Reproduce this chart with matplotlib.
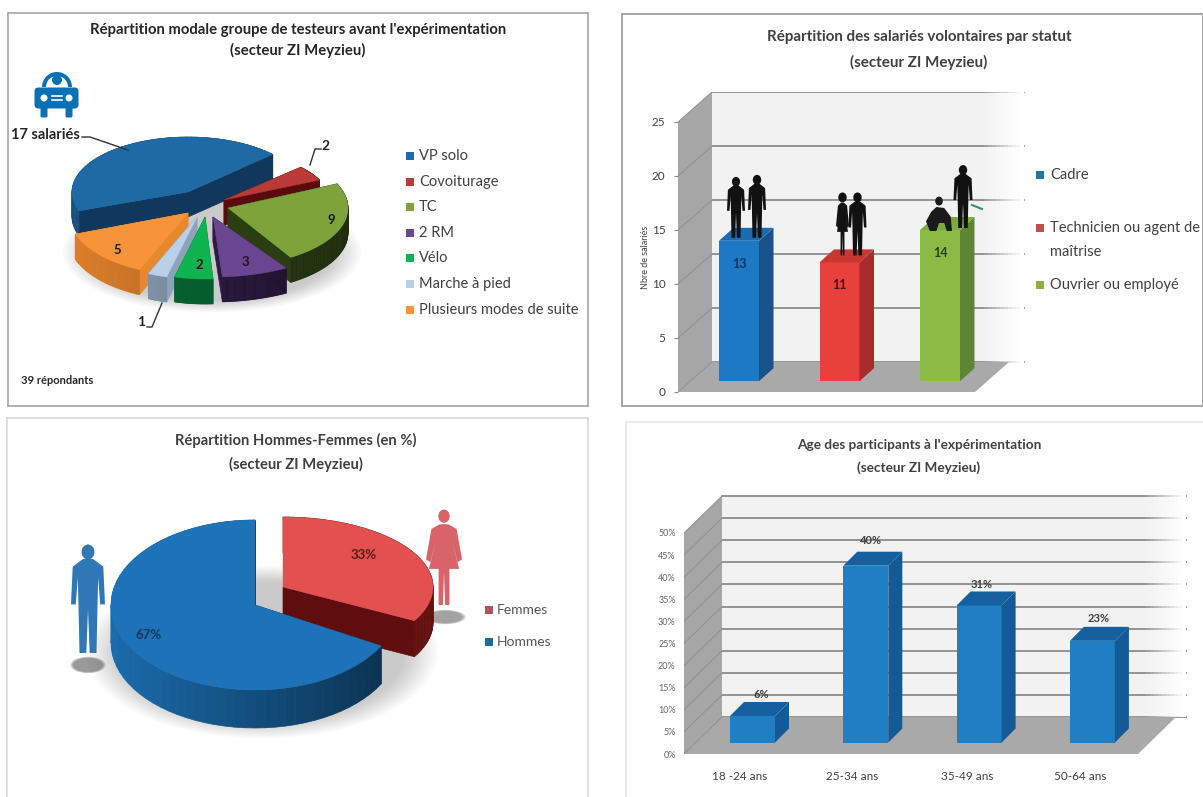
import numpy as np
import matplotlib
matplotlib.use("Agg")
import matplotlib.pyplot as plt
from matplotlib.patches import Polygon, Rectangle, Ellipse, FancyBboxPatch, Wedge
from matplotlib.colors import to_rgb

plt.rcParams['font.family'] = ['Lato', 'DejaVu Sans']

W, H = 1203, 797

# data
modes = ['VP solo', 'Covoiturage', 'TC', '2 RM', 'Vélo', 'Marche à pied', 'Plusieurs modes de suite']
modes_n = [17, 2, 9, 3, 2, 1, 5]
statuts = ['Cadre', 'Technicien ou agent de\nmaîtrise', 'Ouvrier ou employé']
statuts_n = [13, 11, 14]
genres = ['Femmes', 'Hommes']
genres_pct = [33, 67]
ages = ['18 -24 ans', '25-34 ans', '35-49 ans', '50-64 ans']
ages_pct = [6, 40, 31, 23]

# styles
mode_top = ['#1f6aa5', '#b93a36', '#7ea33a', '#6a4590', '#0fb450', '#b8d0ea', '#f79439']
mode_side = ['#174f80', '#6b0f0f', '#2f4514', '#2e1a45', '#067036', '#8da3ba', '#e07f28']
mode_radial = ['#10375c', '#5a0c0c', '#2a3e12', '#2e1a45', '#067036', '#8da3ba', '#e8882e']
mode_legend = ['#1f6aa5', '#b93a36', '#7ea33a', '#6a4590', '#0fb450', '#b8d0ea', '#f79439']
mode_apex = [(188, 192), (224, 200), (228, 208), (213, 217), (205, 217), (197, 217), (188, 213)]
mode_rad = [(116, 55), (105, 48), (120, 58), (140, 60), (120, 62), (120, 62), (120, 62)]
mode_order = [0, 1, 2, 6, 5, 3, 4]

fig = plt.figure(figsize=(W / 100, H / 100), dpi=100, facecolor='white')
over = fig.add_axes([0, 0, 1, 1], zorder=5)
over.set_xlim(0, W)
over.set_ylim(H, 0)
over.axis('off')
over.patch.set_alpha(0)


def slice3d(apex, start, end, rad, depth, top, side, radial, dark_right=0.0, z=2):
    t = np.radians(np.linspace(start, end, 60))
    xs = apex[0] + rad[0] * np.cos(t)
    ys = apex[1] - rad[1] * np.sin(t)
    pts = [apex] + list(zip(xs, ys))
    faces = []
    for i in range(len(pts)):
        p, q = pts[i], pts[(i + 1) % len(pts)]
        if i == 0 or i == len(pts) - 1:
            col = radial
        else:
            shade = 1 - dark_right * (np.cos(t[i - 1]) + 1) / 2
            col = tuple(c * shade for c in to_rgb(side))
        faces.append(((p[1] + q[1]) / 2, [p, q, (q[0], q[1] + depth), (p[0], p[1] + depth)], col))
    faces.sort(key=lambda f: f[0])
    for _, quad, col in faces:
        over.add_patch(Polygon(quad, closed=True, fc=col, ec=col, lw=0.5, zorder=z))
    over.add_patch(Polygon(pts, closed=True, fc=top, ec=top, lw=0.3, zorder=z + 0.1))


def soft_shadow(cx, cy, w, h, alpha=0.025, z=1):
    for k in np.linspace(1.05, 0.85, 14):
        over.add_patch(Ellipse((cx, cy), w * k, h * k, fc='#555555', ec='none', alpha=alpha, zorder=z))


MAN = [(-0.15, 0.13), (0.15, 0.13), (0.45, 0.2), (0.5, 0.55), (0.36, 0.55), (0.3, 0.3), (0.28, 0.55),
       (0.25, 1.0), (0.05, 1.0), (0, 0.6), (-0.05, 1.0), (-0.25, 1.0), (-0.28, 0.55), (-0.3, 0.3),
       (-0.36, 0.55), (-0.5, 0.55), (-0.45, 0.2)]
WOMAN = [(-0.12, 0.15), (0.12, 0.15), (0.35, 0.2), (0.5, 0.52), (0.38, 0.55), (0.22, 0.32), (0.42, 0.62),
         (0.15, 0.62), (0.15, 1), (0.03, 1), (0, 0.65), (-0.03, 1), (-0.15, 1), (-0.15, 0.62), (-0.42, 0.62),
         (-0.22, 0.32), (-0.38, 0.55), (-0.5, 0.52), (-0.35, 0.2)]
CROUCH = [(-0.1, 0.25), (0.2, 0.28), (0.45, 0.55), (0.5, 1.0), (0.3, 1.0), (0.2, 0.75), (0.0, 0.75),
          (-0.1, 1.0), (-0.35, 1.0), (-0.5, 0.7), (-0.3, 0.4)]


def person(cx, foot, w, h, shape, col, head=0.14, z=8):
    pts = [(cx + x * w, foot - h + y * h) for x, y in shape]
    over.add_patch(Polygon(pts, closed=True, fc=col, ec='none', zorder=z))
    over.add_patch(Ellipse((cx, foot - h + 0.065 * h), head * h * 0.85, head * h, fc=col, ec='none', zorder=z))


def frame(x0, y0, x1, y1, col, lw=1.2, sides='ltrb'):
    if 'l' in sides:
        over.plot([x0, x0], [y0, y1], color=col, lw=lw, zorder=0.5)
    if 'r' in sides:
        over.plot([x1, x1], [y0, y1], color=col, lw=lw, zorder=0.5)
    if 't' in sides:
        over.plot([x0, x1], [y0, y0], color=col, lw=lw, zorder=0.5)
    if 'b' in sides:
        over.plot([x0, x1], [y1, y1], color=col, lw=lw, zorder=0.5)


def titles(cx, y1, y2, l1, l2, size, col, weight='bold'):
    over.text(cx, y1, l1, ha='center', va='center', fontsize=size, color=col, fontweight=weight, zorder=9)
    over.text(cx, y2, l2, ha='center', va='center', fontsize=size, color=col, fontweight=weight, zorder=9)


def bar_panel(x0, x1, y0, ytop, scale, ticks, wall_dx, wall_dy, floor_right, wall_right):
    # y data is the chart value, x data is the picture column
    ax = fig.add_axes([x0 / W, 1 - y0 / H, (x1 - x0) / W, (y0 - ytop) / H], zorder=2)
    ax.set_xlim(x0, x1)
    ax.set_ylim(0, (y0 - ytop) / scale)
    ax.patch.set_alpha(0)
    for s in ax.spines.values():
        s.set_visible(False)
    ax.set_xticks([])
    ax.set_yticks(ticks)
    dv = wall_dy / scale
    tmax = ticks[-1]
    ax.add_patch(Rectangle((x0 + wall_dx, dv), wall_right - x0 - wall_dx, tmax, fc='#f2f2f2', ec='none', zorder=0))
    ax.add_patch(Polygon([(x0, 0), (x0 + wall_dx, dv), (x0 + wall_dx, dv + tmax), (x0, tmax)],
                         closed=True, fc='#a6a6a6', ec='none', zorder=1))
    ax.add_patch(Polygon([(x0, 0), (x0 + wall_dx, dv), (floor_right + wall_dx, dv), (floor_right, 0)],
                         closed=True, fc='#a9a9a9', ec='none', zorder=1))
    for v in ticks:
        ax.plot([x0 + wall_dx, wall_right], [v + dv, v + dv], color='#8c8c8c', lw=1.3, zorder=0.5)
        ax.plot([x0, x0 + wall_dx], [v, v + dv], color='#8f8f8f', lw=0.7, zorder=1.5)
    # fade the right side of the wall into the page
    for i, a in enumerate(np.linspace(0.1, 1, 10)):
        ax.add_patch(Rectangle((wall_right - 40 + i * 4, dv - 0.1), 4, tmax + 1, fc='white', ec='none',
                               alpha=a, zorder=0.8))
    return ax


def bars3d(ax, xs, vals, base, width, dx, dv, front, side, top):
    for i, (x, v) in enumerate(zip(xs, vals)):
        f = front[i % len(front)]
        s = side[i % len(side)]
        t = top[i % len(top)]
        ax.bar(x, v, width=width, bottom=base, align='edge', color=f, zorder=4)
        ax.add_patch(Polygon([(x + width, base), (x + width + dx, base + dv), (x + width + dx, base + v + dv),
                              (x + width, base + v)], closed=True, fc=s, ec='none', zorder=4))
        ax.add_patch(Polygon([(x, base + v), (x + dx, base + v + dv), (x + width + dx, base + v + dv),
                              (x + width, base + v)], closed=True, fc=t, ec='none', zorder=4))


# ---------- top left: modes ----------
frame(8, 13, 588, 406, '#a6a6a6')
titles(298, 30, 50, "Répartition modale groupe de testeurs avant l'expérimentation", '(secteur ZI Meyzieu)', 10.7, '#262626')
soft_shadow(212, 252, 285, 115)
angles = 200 - np.concatenate([[0], np.cumsum(modes_n)]) / sum(modes_n) * 360
for i in mode_order:
    slice3d(mode_apex[i], angles[i], angles[i + 1], mode_rad[i], 25, mode_top[i], mode_side[i], mode_radial[i],
            dark_right=0.35)
for i, name in enumerate(modes):
    y = 156 + i * 25.6
    over.add_patch(Rectangle((406, y - 4), 8, 8, fc=mode_legend[i], ec='none', zorder=6))
    over.text(419, y, name, va='center', fontsize=10.5, color='#404040', zorder=9)
for x, y, s in [(331, 220, modes_n[2]), (117, 250, modes_n[6]), (199, 265, modes_n[4]), (245, 262, modes_n[3])]:
    over.text(x, y, str(s), ha='center', va='center', fontsize=9.5, fontweight='bold', color='#1a1a1a', zorder=9)
over.text(11, 135, f'{modes_n[0]} salariés', va='center', fontsize=10.5, fontweight='bold', color='#262626', zorder=9)
over.plot([82, 90, 128], [137, 137, 150], color='#333333', lw=1, zorder=9)
over.text(326, 146, str(modes_n[1]), ha='center', va='center', fontsize=10, fontweight='bold', color='#262626', zorder=9)
over.plot([321, 315, 310], [149, 149, 165], color='#333333', lw=1, zorder=9)
over.text(141, 322, str(modes_n[5]), ha='center', va='center', fontsize=10, fontweight='bold', color='#262626', zorder=9)
over.plot([147, 152, 162], [327, 327, 303], color='#333333', lw=1, zorder=9)
over.text(21, 380, f'{sum(modes_n)} répondants', va='center', fontsize=8, fontweight='bold', color='#262626', zorder=9)

# car icon
car = '#0a70b5'
over.add_patch(Wedge((57, 87), 15, 180, 360, width=4, fc=car, ec='none', zorder=6))
over.add_patch(Ellipse((57, 80), 10, 10, fc=car, ec='none', zorder=6))
over.add_patch(FancyBboxPatch((38, 91), 37, 14, boxstyle='round,pad=3.5,rounding_size=4', fc=car, ec='none', zorder=6))
for x in (44, 69):
    over.add_patch(FancyBboxPatch((x - 2, 108), 4, 8, boxstyle='round,pad=1.5', fc=car, ec='none', zorder=6))
    over.add_patch(Ellipse((x, 98), 7, 7, fc='white', ec='none', zorder=7))
for y in (96, 100):
    over.plot([52, 62], [y, y], color='white', lw=1.2, zorder=7)

# ---------- top right: statut ----------
frame(622, 14, 1203, 406, '#a6a6a6', lw=1.4)
titles(919, 37, 62, 'Répartition des salariés volontaires par statut', '(secteur ZI Meyzieu)', 10.9, '#404040')
ax2 = bar_panel(678, 1030, 392, 92, 10.8, [0, 5, 10, 15, 20, 25], 34, 30, 975, 1024)
ax2.tick_params(axis='y', length=3, color='#888888', labelsize=8.5, labelcolor='#404040', pad=6)
st_x = [719 + i * 100.5 for i in range(3)]
bars3d(ax2, st_x, statuts_n, 1.0, 40, 14.5, 13 / 10.8,
       ['#1b79c6', '#e8403a', '#8bbb45'], ['#17528a', '#a92c2a', '#5f8534'], ['#1a6cb2', '#c93733', '#7dab3c'])
for x, v, c in zip(st_x, statuts_n, ['#12365c', '#4a1010', '#24401a']):
    over.text(x + 20, 392 - 10.8 * (v + 1) + 23, str(v), ha='center', va='center', fontsize=9, fontweight='bold', color=c, zorder=9)
over.text(646, 257, 'Nbre de salariés', rotation=90, ha='center', va='center', fontsize=6.5, color='#404040', zorder=9)
st_col = ['#1f77a8', '#c0504d', '#8bb03f']
for y, name, c in zip([175, 228, 285], statuts, st_col):
    over.add_patch(Rectangle((1036, y - 4), 8, 8, fc=c, ec='none', zorder=6))
for y, s in [(175, statuts[0]), (228, statuts[1].split('\n')[0]), (252, statuts[1].split('\n')[1]), (285, statuts[2])]:
    over.text(1050, y, s, va='center', fontsize=10.5, color='#404040', zorder=9)
# people on the bars
foot = [392 - 10.8 * (v + 1) for v in statuts_n]
person(st_x[0] + 17, foot[0] - 3, 18, 60, MAN, '#111111', head=0.16)
person(st_x[0] + 38, foot[0] - 3, 18, 62, MAN, '#111111', head=0.16)
person(st_x[1] + 23, foot[1] - 7, 13, 62, WOMAN, '#111111', head=0.16)
person(st_x[1] + 38, foot[1] - 7, 18, 62, MAN, '#111111', head=0.16)
person(st_x[2] + 19, foot[2] + 1, 26, 32, CROUCH, '#1a1a1a', head=0.28)
person(st_x[2] + 43, foot[2] - 2, 19, 62, MAN, '#111111', head=0.16)
over.plot([972, 982], [205, 209], color='#2f8f7f', lw=1.5, zorder=8)

# ---------- bottom left: hommes / femmes ----------
frame(7, 418, 588, 797, '#d9d9d9', sides='ltr')
titles(296, 440, 464, 'Répartition Hommes-Femmes (en %)', '(secteur ZI Meyzieu)', 10.6, '#404040')
soft_shadow(262, 652, 335, 165)
gap = 90 - genres_pct[0] / 100 * 360
slice3d((283, 587), 90, gap, (150, 70), 36, '#e2504f', '#7d1414', '#5f0d0d', dark_right=0.2, z=2)
slice3d((255, 605), gap, gap - genres_pct[1] / 100 * 360, (144, 85), 38, '#1e72b8', '#1a6cae', '#123f6b', dark_right=0.55, z=3)
over.text(364, 555, f'{genres_pct[0]}%', ha='center', va='center', fontsize=9.5, fontweight='bold', color='#5a1a1a', zorder=9)
over.text(149, 635, f'{genres_pct[1]}%', ha='center', va='center', fontsize=9.5, fontweight='bold', color='#12365c', zorder=9)
soft_shadow(445, 617, 40, 14, alpha=0.05)
soft_shadow(88, 665, 34, 16, alpha=0.06)
person(444, 605, 36, 95, WOMAN, '#d9636a')
person(88, 653, 34, 108, MAN, '#2f78b5')
for y, name, c in zip([610, 642], genres, ['#b0525c', '#1f6d96']):
    over.add_patch(Rectangle((485, y - 4), 8, 8, fc=c, ec='none', zorder=6))
    over.text(497, y, name, va='center', fontsize=10, color='#555555', zorder=9)

# ---------- bottom right: age ----------
frame(626, 422, 1203, 797, '#e6e6e6', sides='lt')
titles(919, 445, 468, "Age des participants à l'expérimentation", '(secteur ZI Meyzieu)', 9.8, '#404040')
ax4 = bar_panel(684, 1190, 754, 490, 4.42, list(range(0, 51, 5)), 38, 37, 1138, 1186)
ax4.set_yticklabels([f'{v}%' for v in range(0, 51, 5)])
ax4.tick_params(axis='y', length=0, labelsize=6.5, labelcolor='#666666', pad=6)
age_x = [730 + i * 113.3 for i in range(4)]
bars3d(ax4, age_x, ages_pct, 2.6, 45, 14, 14 / 4.42, ['#1f7ec4'], ['#135a96'], ['#17609f'])
for x, v, tx, ty in zip(age_x, ages_pct, [761, 871, 982, 1099], [694, 541, 585, 619]):
    over.text(tx, ty, f'{v}%', ha='center', va='center', fontsize=8, fontweight='bold', color='#404040', zorder=9)
for tx, name in zip([740, 852, 967, 1080], ages):
    over.text(tx, 777, name, ha='center', va='center', fontsize=8.5, color='#404040', zorder=9)

fig.savefig('out.png', dpi=100)
